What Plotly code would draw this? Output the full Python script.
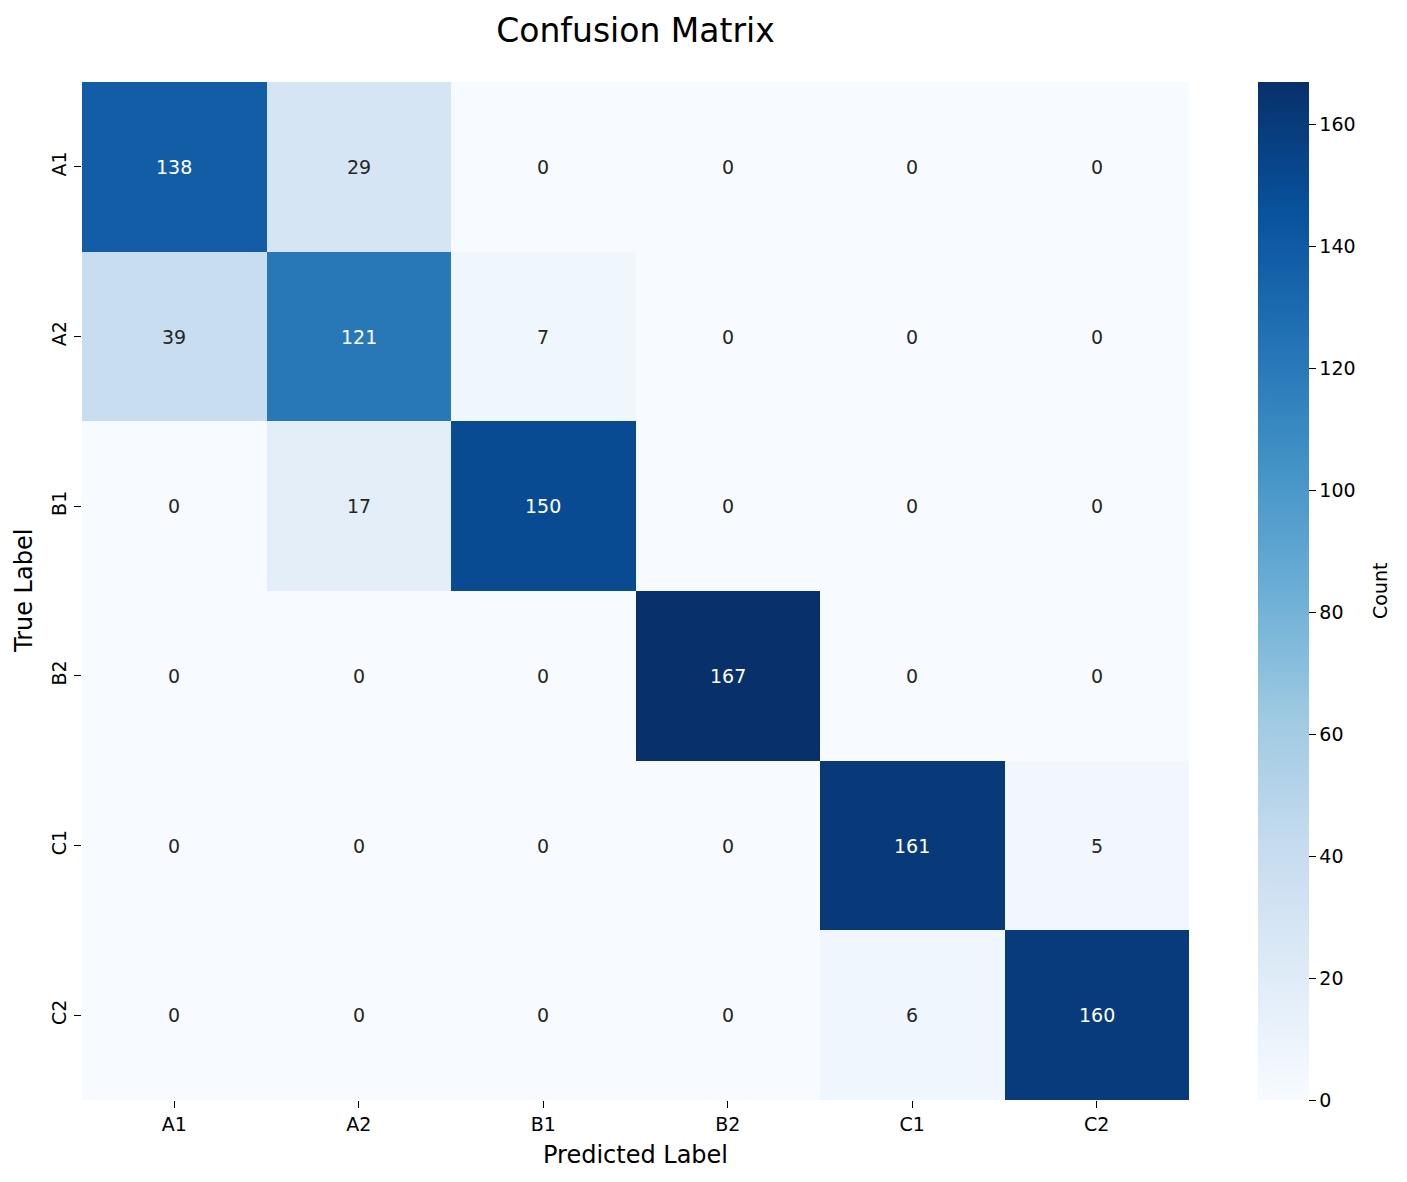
import plotly.graph_objects as go

labels = ["A1", "A2", "B1", "B2", "C1", "C2"]
counts = [
    [138, 29, 0, 0, 0, 0],
    [39, 121, 7, 0, 0, 0],
    [0, 17, 150, 0, 0, 0],
    [0, 0, 0, 167, 0, 0],
    [0, 0, 0, 0, 161, 5],
    [0, 0, 0, 0, 6, 160],
]
cbar_ticks = [0, 20, 40, 60, 80, 100, 120, 140, 160]

blues = ["#f7fbff", "#deebf7", "#c6dbef", "#9ecae1", "#6baed6",
         "#4292c6", "#2171b5", "#08519c", "#08306b"]
colorscale = [[i / (len(blues) - 1), c] for i, c in enumerate(blues)]

W, H = 1407, 1182
L, R, T, B = 82, 1189, 82, 1100
pw = R - L
FONT = "DejaVu Sans"

zmax = max(max(r) for r in counts)

fig = go.Figure(go.Heatmap(
    z=counts, x=labels, y=labels,
    colorscale=colorscale, zmin=0, zmax=zmax,
    xgap=0, ygap=0,
    hoverinfo="skip",
    colorbar=dict(
        x=(1258 - L) / pw, xanchor="left", xref="paper",
        y=0.5, yanchor="middle", len=1, lenmode="fraction",
        xpad=0, ypad=0,
        thickness=51, thicknessmode="pixels",
        outlinewidth=0,
        tickvals=cbar_ticks, ticks="outside", ticklen=7, tickwidth=1.3,
        tickcolor="black",
        tickfont=dict(family=FONT, size=19, color="black"),
    ),
))

annotations = []
thr = zmax * 0.55
for i, row in enumerate(counts):
    for j, v in enumerate(row):
        annotations.append(dict(
            x=labels[j], y=labels[i], xref="x", yref="y",
            text=str(v), showarrow=False,
            font=dict(family=FONT, size=19,
                      color="white" if v > thr else "#262626"),
        ))

annotations.append(dict(
    x=0.5, y=0, xref="paper", yref="paper", yanchor="middle",
    yshift=-(1155 - B), text="Predicted Label", showarrow=False,
    font=dict(family=FONT, size=24, color="black"),
))
annotations.append(dict(
    x=0, y=0.5, xref="paper", yref="paper", xanchor="center",
    xshift=24 - L, text="True Label", textangle=-90, showarrow=False,
    font=dict(family=FONT, size=24, color="black"),
))
annotations.append(dict(
    x=(1380 - L) / pw, y=0.5, xref="paper", yref="paper", xanchor="center",
    yanchor="middle", text="Count", textangle=-90, showarrow=False,
    font=dict(family=FONT, size=19, color="black"),
))

fig.update_layout(
    width=W, height=H,
    margin=dict(l=L, r=W - R, t=T, b=H - B, pad=0),
    paper_bgcolor="white", plot_bgcolor="white",
    title=dict(text="Confusion Matrix", x=0.5, xref="paper",
               y=1 - 30 / H, yanchor="middle",
               font=dict(family=FONT, size=33, color="black")),
    xaxis=dict(showgrid=False, zeroline=False, ticks="outside", ticklen=7,
               tickwidth=1.3, tickcolor="black", showline=False,
               tickfont=dict(family=FONT, size=19, color="black"),
               constrain="domain"),
    yaxis=dict(showgrid=False, zeroline=False, ticks="outside", ticklen=7,
               tickwidth=1.3, tickcolor="black", showline=False,
               autorange="reversed", tickangle=-90,
               tickfont=dict(family=FONT, size=19, color="black")),
    annotations=annotations,
    font=dict(family=FONT),
)

fig.write_html("out.html")
